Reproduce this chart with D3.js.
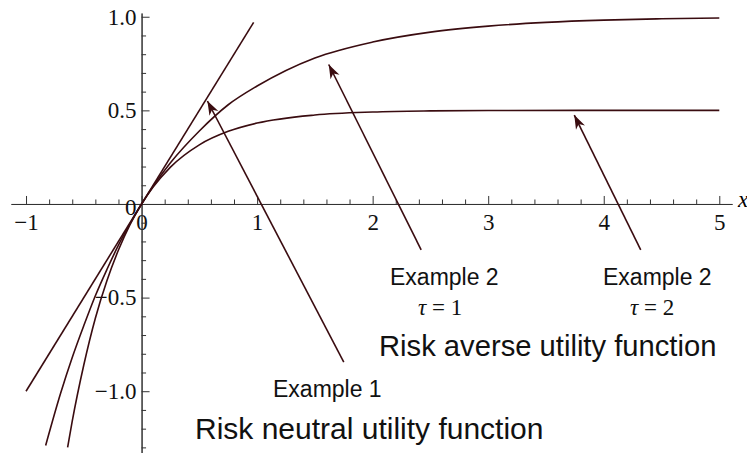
<!DOCTYPE html>
<html lang="en">
<head>
<meta charset="utf-8">
<title>Utility functions</title>
<script src="https://d3js.org/d3.v7.min.js"></script>
<style>
body { margin: 0; background: #fff; }
svg { display: block; }
.axis path, .axis line { stroke: #333; stroke-width: 1px; }
</style>
</head>
<body>
<script>

// data
var linearX = [-1, 0.97];
var linearY = [-1, 0.97];

var tau1X = [-0.83, -0.7, -0.6, -0.5, -0.4, -0.3, -0.2, -0.1, 0, 0.1, 0.25, 0.5, 0.75, 1, 1.5, 2, 2.5, 3, 3.5, 4, 4.5, 5];
var tau1Y = [-1.29, -1.01, -0.82, -0.65, -0.49, -0.35, -0.22, -0.105, 0, 0.095, 0.22, 0.39, 0.53, 0.63, 0.78, 0.865, 0.918, 0.95, 0.97, 0.982, 0.989, 0.993];

var tau2X = [-0.64, -0.6, -0.5, -0.4, -0.3, -0.2, -0.1, 0, 0.1, 0.25, 0.5, 0.75, 1, 1.5, 2, 2.5, 3, 4, 5];
var tau2Y = [-1.3, -1.16, -0.86, -0.61, -0.41, -0.246, -0.11, 0, 0.09, 0.197, 0.316, 0.388, 0.432, 0.475, 0.491, 0.497, 0.499, 0.5, 0.5];

var xTicks = [-1, 0, 1, 2, 3, 4, 5];
var yTicks = [-1, -0.5, 0, 0.5, 1];

// arrows: [tailX, tailY, tipX, tipY] in data units
var arrows = [
  [1.75, -0.845, 0.57, 0.55],
  [2.42, -0.245, 1.62, 0.745],
  [4.32, -0.245, 3.745, 0.475]
];

var W = 747, H = 453;
var lineColor = "#3a0c10";
var serif = "'Liberation Serif', 'Times New Roman', Times, 'DejaVu Serif', serif";
var sans = "'Liberation Sans', Arial, Helvetica, sans-serif";

var svg = d3.select("body").append("svg")
    .attr("width", W)
    .attr("height", H);

var xScale = d3.scaleLinear().domain([-1.13, 5.11]).range([11, 732]);
var yScale = d3.scaleLinear().domain([-1.33, 1.02]).range([453, 13]);

// minor ticks
var xMinor = d3.range(-1, 5.01, 0.2).filter(function(v) { return Math.abs(v - Math.round(v)) > 0.01; });
var yMinor = d3.range(-1.3, 1.01, 0.1).filter(function(v) { return Math.abs(v * 2 - Math.round(v * 2)) > 0.01; });

var fmtY = function(d) { return d === 0 ? "0" : d3.format(".1f")(d); };

svg.append("g")
    .attr("class", "axis")
    .attr("transform", "translate(0," + yScale(0) + ")")
    .call(d3.axisBottom(xScale).tickValues(xMinor).tickSizeInner(-4.5).tickSizeOuter(0).tickFormat(""));

var gx = svg.append("g")
    .attr("class", "axis")
    .attr("transform", "translate(0," + yScale(0) + ")")
    .call(d3.axisBottom(xScale).tickValues(xTicks).tickSizeInner(-8).tickSizeOuter(0).tickPadding(10).tickFormat(d3.format("d")));

svg.append("g")
    .attr("class", "axis")
    .attr("transform", "translate(" + xScale(0) + ",0)")
    .call(d3.axisLeft(yScale).tickValues(yMinor).tickSizeInner(-4.5).tickSizeOuter(0).tickFormat(""));

var gy = svg.append("g")
    .attr("class", "axis")
    .attr("transform", "translate(" + xScale(0) + ",0)")
    .call(d3.axisLeft(yScale).tickValues(yTicks).tickSizeInner(-8).tickSizeOuter(0).tickPadding(5).tickFormat(fmtY));

gx.attr("font-family", serif).attr("font-size", 23);
gy.attr("font-family", serif).attr("font-size", 23);
gx.selectAll("text").style("font-family", serif).style("font-size", "23px").attr("fill", "#111");
gy.selectAll("text").style("font-family", serif).style("font-size", "23px").attr("fill", "#111");

// y "0" label sits a little low in the original
gy.selectAll("text").filter(function(d) { return d === 0; }).attr("dy", "0.45em");

svg.append("text")
    .attr("x", 738)
    .attr("y", 207)
    .style("font-family", serif)
    .style("font-style", "italic")
    .style("font-size", "23px")
    .text("x");

// curves
var line = d3.line()
    .x(function(d) { return xScale(d[0]); })
    .y(function(d) { return yScale(d[1]); })
    .curve(d3.curveMonotoneX);

var series = [d3.zip(linearX, linearY), d3.zip(tau1X, tau1Y), d3.zip(tau2X, tau2Y)];

svg.selectAll(".curve")
    .data(series)
    .enter().append("path")
    .attr("class", "curve")
    .attr("d", line)
    .attr("fill", "none")
    .attr("stroke", lineColor)
    .attr("stroke-width", 1.6);

// arrows
svg.append("defs").append("marker")
    .attr("id", "head")
    .attr("viewBox", "-14 -6 15 12")
    .attr("refX", 0)
    .attr("refY", 0)
    .attr("markerWidth", 15)
    .attr("markerHeight", 12)
    .attr("markerUnits", "userSpaceOnUse")
    .attr("orient", "auto")
  .append("path")
    .attr("d", "M0,0 L-14,-5 L-10,0 L-14,5 Z")
    .attr("fill", lineColor);

svg.selectAll(".arrow")
    .data(arrows)
    .enter().append("line")
    .attr("class", "arrow")
    .attr("x1", function(d) { return xScale(d[0]); })
    .attr("y1", function(d) { return yScale(d[1]); })
    .attr("x2", function(d) { return xScale(d[2]); })
    .attr("y2", function(d) { return yScale(d[3]); })
    .attr("stroke", lineColor)
    .attr("stroke-width", 1.6)
    .attr("marker-end", "url(#head)");

// labels
function label(x, y, size, txt) {
  svg.append("text").attr("x", x).attr("y", y)
    .style("font-family", sans).style("font-size", size + "px").attr("fill", "#111")
    .text(txt);
}
label(273, 397, 23, "Example 1");
label(195, 439, 30, "Risk neutral utility function");
label(390, 285, 23, "Example 2");
label(603, 285, 23, "Example 2");
label(379, 356, 29.2, "Risk averse utility function");

function tau(x, y, v) {
  var t = svg.append("text").attr("x", x).attr("y", y)
    .style("font-family", serif).style("font-size", "23px").attr("fill", "#111");
  t.append("tspan").style("font-style", "italic").text("τ");
  t.append("tspan").text(" = " + v);
}
tau(418, 315, 1);
tau(630, 315, 2);

</script>
</body>
</html>
